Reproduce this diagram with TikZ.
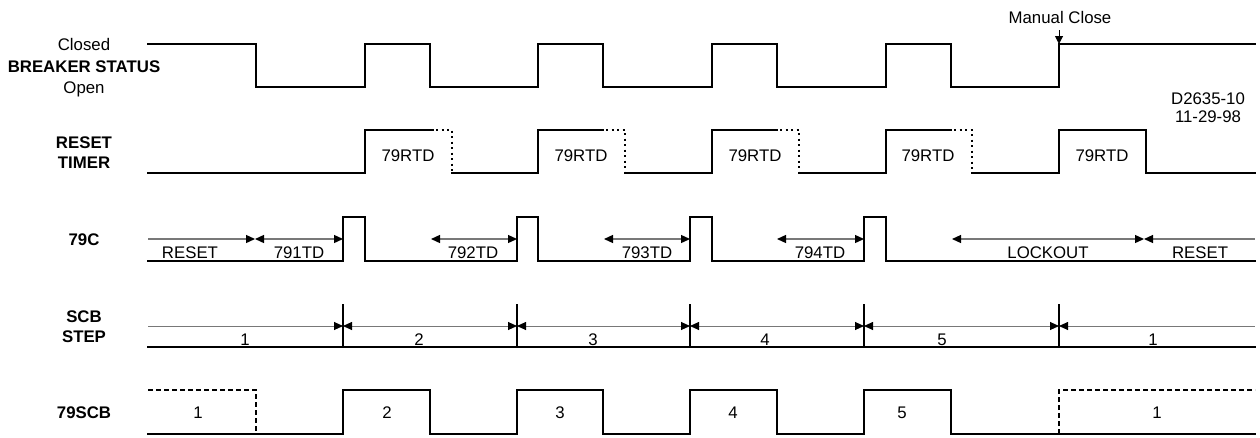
\documentclass[tikz,border=0pt]{standalone}
\usepackage{fontspec}
\setmainfont{Liberation Sans}
\usetikzlibrary{arrows.meta}
\definecolor{arrgray}{RGB}{120,120,120}
\begin{document}
\begin{tikzpicture}[x=1pt,y=-1pt,
  sig/.style={line width=2pt,line join=miter,line cap=rect},
  dotsig/.style={line width=2pt,dash pattern=on 2pt off 3.5pt},
  dashsig/.style={line width=2pt,dash pattern=on 5pt off 3pt},
  tarrow/.style={draw=arrgray,line width=1.3pt,>={Triangle[black,length=9pt,width=8pt]}},
  sarrow/.style={draw=arrgray,line width=0.9pt,>={Triangle[black,length=9pt,width=8pt]}},
  tick/.style={line width=2pt},
  lbl/.style={inner sep=0pt,font=\fontsize{16.8}{19}\selectfont,text height=12pt,text depth=0pt},
  blbl/.style={lbl,font=\fontsize{16.8}{19}\selectfont\bfseries}]
\fill[white] (0,0) rectangle (1260,437);
\useasboundingbox (0,0) rectangle (1260,437);

% left labels
\node[lbl]  (closed) at (84,44) {Closed};
\node[blbl] (bs)     at (84,66) {BREAKER STATUS};
\node[lbl]  (open)   at (84,87) {Open};
\node[blbl] (rst)    at (84,142) {RESET};
\node[blbl] (tmr)    at (84,162) {TIMER};
\node[blbl] (c79)    at (84,239) {79C};
\node[blbl] (scb)    at (84,316) {SCB};
\node[blbl] (step)   at (84,336) {STEP};
\node[blbl] (scb79)  at (84,412) {79SCB};

% drawing id
\node[lbl] (did)  at (1208,98) {D2635-10};
\node[lbl] (ddat) at (1208,116) {11-29-98};

% breaker status
\draw[sig] (148,44) -- (256,44) -- (256,87) -- (365,87) -- (365,44) -- (430,44) -- (430,87)
  -- (538,87) -- (538,44) -- (603,44) -- (603,87) -- (712,87) -- (712,44) -- (777,44)
  -- (777,87) -- (886,87) -- (886,44) -- (951,44) -- (951,87) -- (1059,87) -- (1059,44) -- (1255,44);
\node[lbl] (mc) at (1060,17) {Manual Close};
\coordinate (mcs) at (1059,30);
\coordinate (mce) at (1059,44);
\draw[line width=1pt,-{Triangle[black,length=8pt,width=8pt]}] (mcs) -- (mce);

% reset timer
\draw[sig] (148,173) -- (365,173) -- (365,130) -- (433,130);
\draw[dotsig] (436,130) -- (452,130) -- (452,173);
\draw[sig] (452,173) -- (538,173) -- (538,130) -- (603,130);
\draw[dotsig] (606,130) -- (625,130) -- (625,173);
\draw[sig] (625,173) -- (712,173) -- (712,130) -- (777,130);
\draw[dotsig] (780,130) -- (799,130) -- (799,173);
\draw[sig] (799,173) -- (886,173) -- (886,130) -- (951,130);
\draw[dotsig] (954,130) -- (972,130) -- (972,173);
\draw[sig] (972,173) -- (1059,173) -- (1059,130) -- (1146,130) -- (1146,173) -- (1255,173);
\node[lbl] (rtd1) at (408,155) {79RTD};
\node[lbl] (rtd2) at (581,155) {79RTD};
\node[lbl] (rtd3) at (755,155) {79RTD};
\node[lbl] (rtd4) at (928,155) {79RTD};
\node[lbl] (rtd5) at (1102,155) {79RTD};

% 79C
\draw[sig] (148,261) -- (343,261) -- (343,217) -- (365,217) -- (365,261) -- (517,261) -- (517,217)
  -- (538,217) -- (538,261) -- (690,261) -- (690,217) -- (712,217) -- (712,261) -- (864,261)
  -- (864,217) -- (886,217) -- (886,261) -- (1255,261);
\coordinate (a0) at (148,239);
\coordinate (a1) at (255,239);
\coordinate (a2) at (343,239);
\coordinate (a3) at (431,239);
\coordinate (a4) at (517,239);
\coordinate (a5) at (604,239);
\coordinate (a6) at (690,239);
\coordinate (a7) at (777,239);
\coordinate (a8) at (864,239);
\coordinate (a9) at (952,239);
\coordinate (a10) at (1144,239);
\coordinate (a11) at (1255,239);
\draw[tarrow,->] (a0) -- (a1);
\draw[tarrow,<->] (a1) -- (a2);
\draw[tarrow,<->] (a3) -- (a4);
\draw[tarrow,<->] (a5) -- (a6);
\draw[tarrow,<->] (a7) -- (a8);
\draw[tarrow,<->] (a9) -- (a10);
\draw[tarrow,<-] (a10) -- (a11);
\node[lbl] (t1) at (190,252) {RESET};
\node[lbl] (t2) at (299,252) {791TD};
\node[lbl] (t3) at (473,252) {792TD};
\node[lbl] (t4) at (647,252) {793TD};
\node[lbl] (t5) at (820,252) {794TD};
\node[lbl] (t6) at (1048,252) {LOCKOUT};
\node[lbl] (t7) at (1200,252) {RESET};

% SCB step
\draw[sig] (148,347) -- (1255,347);
\foreach \x in {343,517,690,864,1059} \draw[tick] (\x,304) -- (\x,347);
\coordinate (s0) at (148,326);
\coordinate (s1) at (343,326);
\coordinate (s2) at (517,326);
\coordinate (s3) at (690,326);
\coordinate (s4) at (864,326);
\coordinate (s5) at (1059,326);
\coordinate (s6) at (1255,326);
\draw[sarrow,->] (s0) -- (s1);
\draw[sarrow,<->] (s1) -- (s2);
\draw[sarrow,<->] (s2) -- (s3);
\draw[sarrow,<->] (s3) -- (s4);
\draw[sarrow,<->] (s4) -- (s5);
\draw[sarrow,<-] (s5) -- (s6);
\node[lbl] (n1) at (245,339) {1};
\node[lbl] (n2) at (419,339) {2};
\node[lbl] (n3) at (593,339) {3};
\node[lbl] (n4) at (765,339) {4};
\node[lbl] (n5) at (942,339) {5};
\node[lbl] (n6) at (1153,339) {1};

% 79SCB
\draw[sig] (148,434) -- (343,434) -- (343,390) -- (430,390) -- (430,434) -- (517,434) -- (517,390)
  -- (603,390) -- (603,434) -- (690,434) -- (690,390) -- (777,390) -- (777,434) -- (864,434)
  -- (864,390) -- (951,390) -- (951,434) -- (1255,434);
\draw[dashsig] (148,390) -- (256,390) -- (256,434);
\draw[dashsig] (1059,434) -- (1059,390) -- (1255,390);
\node[lbl] (m1) at (198,412) {1};
\node[lbl] (m2) at (387,412) {2};
\node[lbl] (m3) at (560,412) {3};
\node[lbl] (m4) at (733,412) {4};
\node[lbl] (m5) at (902,412) {5};
\node[lbl] (m6) at (1157,412) {1};
\end{tikzpicture}
\end{document}
